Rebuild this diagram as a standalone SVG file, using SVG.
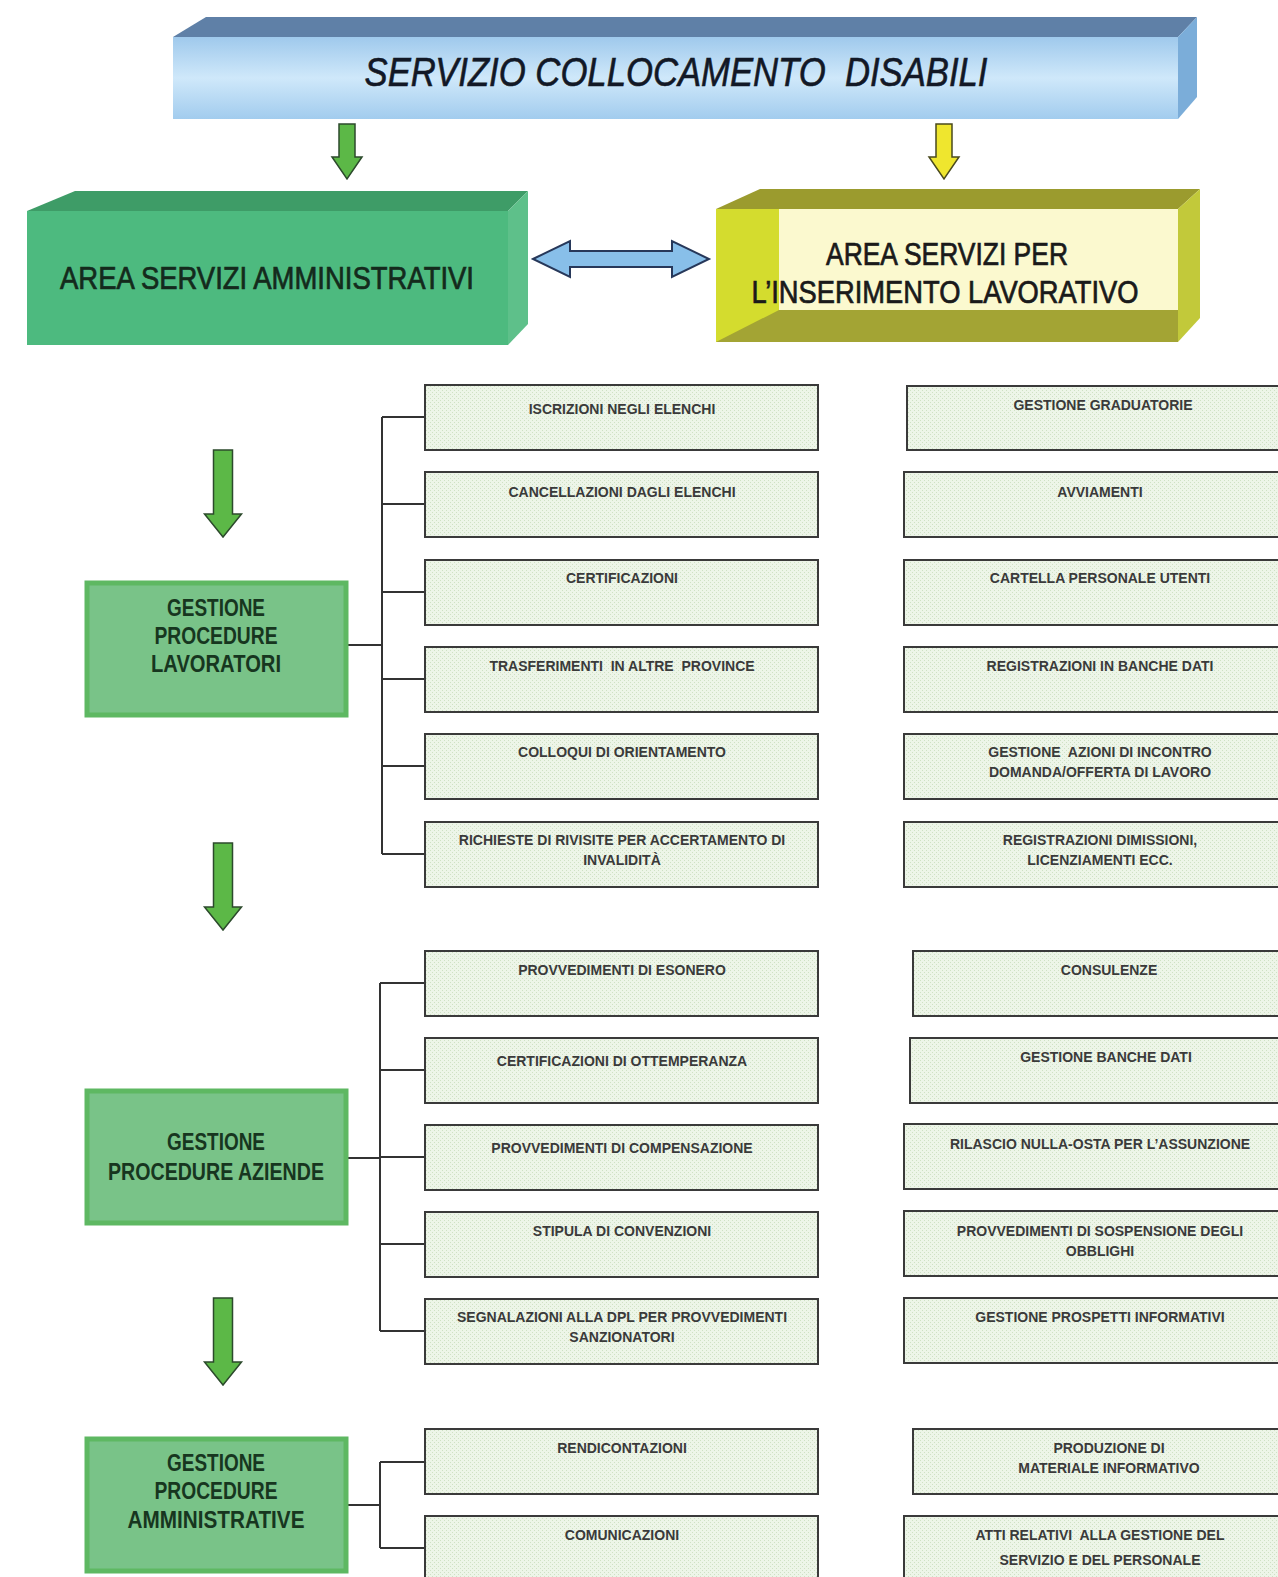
<svg xmlns="http://www.w3.org/2000/svg" width="1278" height="1577" viewBox="0 0 1278 1577">
  <defs>
    <linearGradient id="bannerFront" x1="0" y1="0" x2="0" y2="1">
      <stop offset="0" stop-color="#9fc9ec"/>
      <stop offset="0.5" stop-color="#cfe8fa"/>
      <stop offset="1" stop-color="#a2ccee"/>
    </linearGradient>
    <pattern id="hatch" width="4" height="4" patternUnits="userSpaceOnUse">
      <rect width="4" height="4" fill="#edf5e8"/>
      <rect x="0" y="0" width="1" height="1" fill="#cfe1c4"/>
      <rect x="2" y="2" width="1" height="1" fill="#cfe1c4"/>
    </pattern>
    <style>
      .box { fill: url(#hatch); stroke: #3a3a3a; stroke-width: 2; }
      .node { fill: #79c388; stroke: #5eb862; stroke-width: 5; }
      .lbl { font-family: "Liberation Sans", Arial, sans-serif; font-weight: bold; font-size: 14px; fill: #3a3a3a; text-anchor: middle; white-space: pre; }
      .nlbl { font-family: "Liberation Sans", Arial, sans-serif; font-weight: bold; font-size: 23px; fill: #17361f; text-anchor: middle; }
      .title { font-family: "Liberation Sans", Arial, sans-serif; font-size: 31px; fill: #142a1c; stroke: #142a1c; stroke-width: 0.7; text-anchor: middle; }
      .garrow { fill: #5cb847; stroke: #2c4a2c; stroke-width: 1.5; }
      .wire { fill: none; stroke: #333; stroke-width: 2; }
    </style>
  </defs>

  <rect width="1278" height="1577" fill="#ffffff"/>

  <!-- Top banner -->
  <g id="servizio">
    <path d="M173,37 L206,17 L1197,17 L1178,37 Z" fill="#5f80a7"/>
    <path d="M1178,37 L1197,17 L1197,97 L1178,119 Z" fill="#7badd9"/>
    <rect x="173" y="37" width="1005" height="82" fill="url(#bannerFront)"/>
    <text x="676" y="86" font-family="Liberation Sans, Arial, sans-serif" font-style="italic" font-size="40" fill="#121826" stroke="#121826" stroke-width="0.6" text-anchor="middle" textLength="623" lengthAdjust="spacingAndGlyphs" style="white-space:pre">SERVIZIO COLLOCAMENTO  DISABILI</text>
  </g>

  <!-- Left area box -->
  <g id="area-amministrativi">
    <path d="M27,211 L75,191 L528,191 L508,211 Z" fill="#3e9c67"/>
    <path d="M508,211 L528,191 L528,324 L508,345 Z" fill="#5ec08a"/>
    <rect x="27" y="211" width="481" height="134" fill="#4dba7f"/>
    <text class="title" x="267" y="289" textLength="414" lengthAdjust="spacingAndGlyphs">AREA SERVIZI AMMINISTRATIVI</text>
  </g>

  <!-- Right area box -->
  <g id="area-inserimento">
    <path d="M716,209 L760,189 L1200,189 L1178,209 Z" fill="#9b9b2e"/>
    <path d="M1178,209 L1200,189 L1200,318 L1178,342 Z" fill="#c2c93a"/>
    <rect x="716" y="209" width="462" height="133" fill="#d4dc2e"/>
    <path d="M716,342 L779,310 L1178,310 L1178,342 Z" fill="#a3a434"/>
    <rect x="779" y="209" width="399" height="101" fill="#fbf9cf"/>
    <text class="title" x="947" y="265" textLength="242" lengthAdjust="spacingAndGlyphs" style="fill:#1a1a1a;stroke:#1a1a1a">AREA SERVIZI PER</text>
    <text class="title" x="945" y="303" textLength="387" lengthAdjust="spacingAndGlyphs" style="fill:#1a1a1a;stroke:#1a1a1a">L’INSERIMENTO LAVORATIVO</text>
  </g>

  <!-- Connectors -->
  <g id="connectors">
    <path class="garrow" d="M339,124 H355 V157 H362 L347,179 L332,157 H339 Z"/>
    <path d="M936,124 H952 V157 H959 L944,179 L929,157 H936 Z" fill="#efe62e" stroke="#4a4a1e" stroke-width="1.5"/>
    <path d="M533,259 L570,241 V251 H672 V241 L709,259 L672,277 V267 H570 V277 Z" fill="#88bfe9" stroke="#27385a" stroke-width="2"/>

    <path class="garrow" d="M213.5,450 H232.5 V514 H241.5 L223,537 L204.5,514 H213.5 Z"/>
    <path class="garrow" d="M213.5,843 H232.5 V907 H241.5 L223,930 L204.5,907 H213.5 Z"/>
    <path class="garrow" d="M213.5,1298 H232.5 V1362 H241.5 L223,1385 L204.5,1362 H213.5 Z"/>

    <!-- bracket 1 -->
    <path class="wire" d="M382,417 V854 M348,645 H382 M382,417 H425 M382,504 H425 M382,592 H425 M382,679 H425 M382,766 H425 M382,854 H425"/>
    <!-- bracket 2 -->
    <path class="wire" d="M380,983 V1331 M348,1158 H380 M380,983 H425 M380,1070 H425 M380,1157 H425 M380,1244 H425 M380,1331 H425"/>
    <!-- bracket 3 -->
    <path class="wire" d="M380,1462 V1548 M348,1505 H380 M380,1462 H425 M380,1548 H425"/>
  </g>

  <!-- Process nodes -->
  <g id="gestione-lavoratori">
    <rect class="node" x="87" y="583" width="259" height="132"/>
    <text class="nlbl" x="216" y="616" textLength="98" lengthAdjust="spacingAndGlyphs">GESTIONE</text>
    <text class="nlbl" x="216" y="644" textLength="123" lengthAdjust="spacingAndGlyphs">PROCEDURE</text>
    <text class="nlbl" x="216" y="672" textLength="130" lengthAdjust="spacingAndGlyphs">LAVORATORI</text>
  </g>
  <g id="gestione-aziende">
    <rect class="node" x="87" y="1091" width="259" height="132"/>
    <text class="nlbl" x="216" y="1150" textLength="98" lengthAdjust="spacingAndGlyphs">GESTIONE</text>
    <text class="nlbl" x="216" y="1180" textLength="216" lengthAdjust="spacingAndGlyphs">PROCEDURE AZIENDE</text>
  </g>
  <g id="gestione-amministrative">
    <rect class="node" x="87" y="1439" width="259" height="132"/>
    <text class="nlbl" x="216" y="1471" textLength="98" lengthAdjust="spacingAndGlyphs">GESTIONE</text>
    <text class="nlbl" x="216" y="1499" textLength="123" lengthAdjust="spacingAndGlyphs">PROCEDURE</text>
    <text class="nlbl" x="216" y="1528" textLength="177" lengthAdjust="spacingAndGlyphs">AMMINISTRATIVE</text>
  </g>

  <!-- Activities: workers -->
  <g id="iscrizioni"><rect class="box" x="425" y="385" width="393" height="65"/><text class="lbl" x="622" y="414">ISCRIZIONI NEGLI ELENCHI</text></g>
  <g id="cancellazioni"><rect class="box" x="425" y="472" width="393" height="65"/><text class="lbl" x="622" y="497">CANCELLAZIONI DAGLI ELENCHI</text></g>
  <g id="certificazioni"><rect class="box" x="425" y="560" width="393" height="65"/><text class="lbl" x="622" y="583">CERTIFICAZIONI</text></g>
  <g id="trasferimenti"><rect class="box" x="425" y="647" width="393" height="65"/><text class="lbl" x="622" y="671">TRASFERIMENTI  IN ALTRE  PROVINCE</text></g>
  <g id="colloqui"><rect class="box" x="425" y="734" width="393" height="65"/><text class="lbl" x="622" y="757">COLLOQUI DI ORIENTAMENTO</text></g>
  <g id="rivisite"><rect class="box" x="425" y="822" width="393" height="65"/><text class="lbl" x="622" y="845">RICHIESTE DI RIVISITE PER ACCERTAMENTO DI</text><text class="lbl" x="622" y="865">INVALIDITÀ</text></g>

  <g id="graduatorie"><rect class="box" x="907" y="386" width="390" height="64"/><text class="lbl" x="1103" y="410">GESTIONE GRADUATORIE</text></g>
  <g id="avviamenti"><rect class="box" x="904" y="472" width="390" height="65"/><text class="lbl" x="1100" y="497">AVVIAMENTI</text></g>
  <g id="cartella"><rect class="box" x="904" y="560" width="390" height="65"/><text class="lbl" x="1100" y="583">CARTELLA PERSONALE UTENTI</text></g>
  <g id="registrazioni-banche"><rect class="box" x="904" y="647" width="390" height="65"/><text class="lbl" x="1100" y="671">REGISTRAZIONI IN BANCHE DATI</text></g>
  <g id="incontro"><rect class="box" x="904" y="734" width="390" height="65"/><text class="lbl" x="1100" y="757">GESTIONE  AZIONI DI INCONTRO</text><text class="lbl" x="1100" y="777">DOMANDA/OFFERTA DI LAVORO</text></g>
  <g id="dimissioni"><rect class="box" x="904" y="822" width="390" height="65"/><text class="lbl" x="1100" y="845">REGISTRAZIONI DIMISSIONI,</text><text class="lbl" x="1100" y="865">LICENZIAMENTI ECC.</text></g>

  <!-- Activities: companies -->
  <g id="esonero"><rect class="box" x="425" y="951" width="393" height="65"/><text class="lbl" x="622" y="975">PROVVEDIMENTI DI ESONERO</text></g>
  <g id="ottemperanza"><rect class="box" x="425" y="1038" width="393" height="65"/><text class="lbl" x="622" y="1066">CERTIFICAZIONI DI OTTEMPERANZA</text></g>
  <g id="compensazione"><rect class="box" x="425" y="1125" width="393" height="65"/><text class="lbl" x="622" y="1153">PROVVEDIMENTI DI COMPENSAZIONE</text></g>
  <g id="convenzioni"><rect class="box" x="425" y="1212" width="393" height="65"/><text class="lbl" x="622" y="1236">STIPULA DI CONVENZIONI</text></g>
  <g id="segnalazioni"><rect class="box" x="425" y="1299" width="393" height="65"/><text class="lbl" x="622" y="1322">SEGNALAZIONI ALLA DPL PER PROVVEDIMENTI</text><text class="lbl" x="622" y="1342">SANZIONATORI</text></g>

  <g id="consulenze"><rect class="box" x="913" y="951" width="390" height="65"/><text class="lbl" x="1109" y="975">CONSULENZE</text></g>
  <g id="banche-dati"><rect class="box" x="910" y="1038" width="390" height="65"/><text class="lbl" x="1106" y="1062">GESTIONE BANCHE DATI</text></g>
  <g id="nulla-osta"><rect class="box" x="904" y="1124" width="390" height="65"/><text class="lbl" x="1100" y="1149">RILASCIO NULLA-OSTA PER L’ASSUNZIONE</text></g>
  <g id="sospensione"><rect class="box" x="904" y="1211" width="390" height="65"/><text class="lbl" x="1100" y="1236">PROVVEDIMENTI DI SOSPENSIONE DEGLI</text><text class="lbl" x="1100" y="1256">OBBLIGHI</text></g>
  <g id="prospetti"><rect class="box" x="904" y="1298" width="390" height="65"/><text class="lbl" x="1100" y="1322">GESTIONE PROSPETTI INFORMATIVI</text></g>

  <!-- Activities: administration -->
  <g id="rendicontazioni"><rect class="box" x="425" y="1429" width="393" height="65"/><text class="lbl" x="622" y="1453">RENDICONTAZIONI</text></g>
  <g id="comunicazioni"><rect class="box" x="425" y="1516" width="393" height="65"/><text class="lbl" x="622" y="1540">COMUNICAZIONI</text></g>

  <g id="materiale"><rect class="box" x="913" y="1429" width="390" height="65"/><text class="lbl" x="1109" y="1453">PRODUZIONE DI</text><text class="lbl" x="1109" y="1473">MATERIALE INFORMATIVO</text></g>
  <g id="atti"><rect class="box" x="904" y="1516" width="390" height="70"/><text class="lbl" x="1100" y="1540" font-size="14.5">ATTI RELATIVI  ALLA GESTIONE DEL</text><text class="lbl" x="1100" y="1565" font-size="14.5">SERVIZIO E DEL PERSONALE</text></g>
</svg>
